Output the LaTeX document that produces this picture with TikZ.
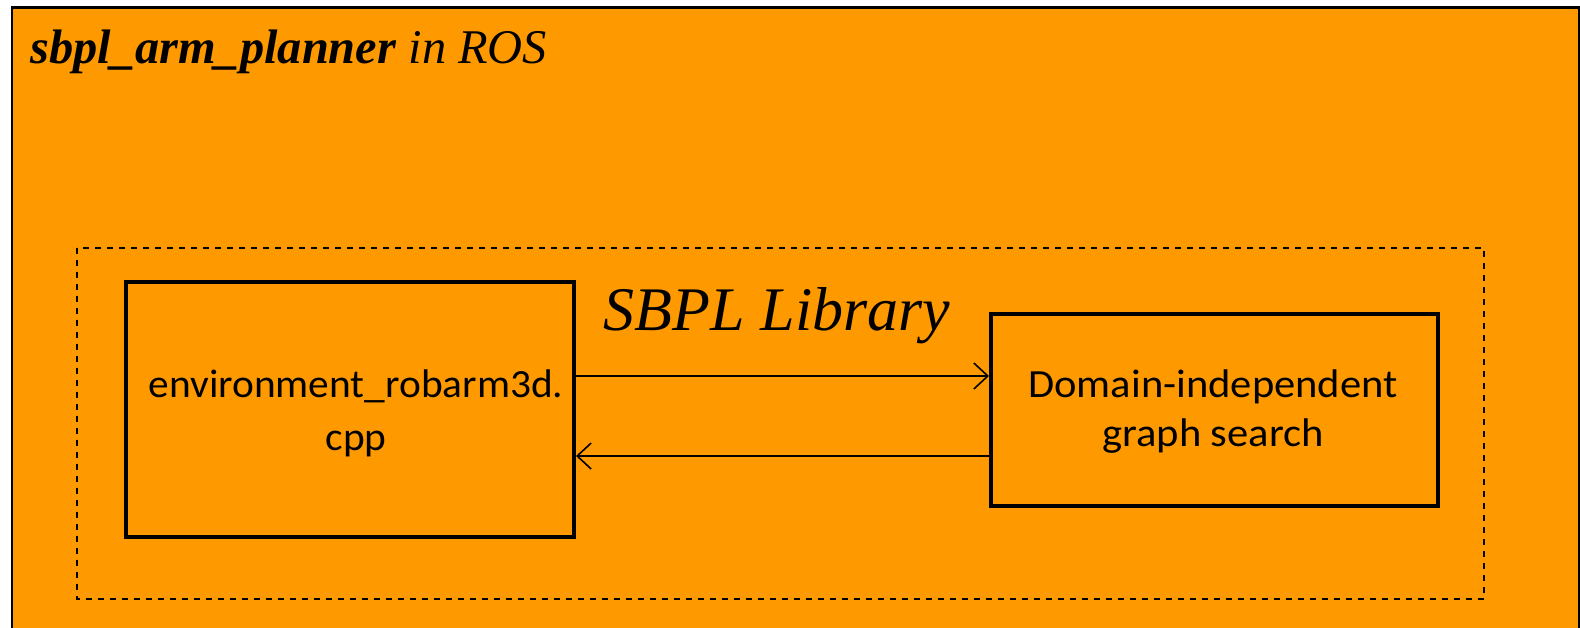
\documentclass[tikz,border=0pt]{standalone}
\usepackage{graphicx}
\usepackage{fontspec}
\setmainfont{Liberation Serif}[ItalicFont={Liberation Serif Italic},BoldFont={Liberation Serif Bold},BoldItalicFont={Liberation Serif Bold Italic}]
\newfontfamily\timesf{Liberation Serif}[ItalicFont={Liberation Serif Italic},BoldFont={Liberation Serif Bold},BoldItalicFont={Liberation Serif Bold Italic}]
\newfontfamily\calib{Carlito}
\usetikzlibrary{arrows.meta}
\definecolor{bgorange}{HTML}{FF9900}
\tikzset{
  modbox/.style={draw=black, line width=2pt, fill=bgorange, inner sep=0pt},
  conn/.style={line width=0.8pt, -{Straight Barb[length=7pt,width=13pt,line width=0.8pt]}},
  boxtext/.style={inner sep=0pt, align=center}
}
\begin{document}
\begin{tikzpicture}[x=0.5pt,y=-0.5pt]
\useasboundingbox (0,0) rectangle (1580,627);
\clip (0,0) rectangle (1580,627);
\fill[white] (0,0) rectangle (1580,627);
\draw[line width=1.2pt, fill=bgorange] (12,7.5) rectangle (1579,660);
\node[anchor=base west, inner sep=0pt, font=\timesf\fontsize{24.2}{29}\selectfont] (title) at (30,63) {\textbf{\textit{sbpl\_arm\_planner}} \textit{in ROS}};
\draw[dashed, line width=0.6pt] (77,248) rectangle (1484,599);
\node[inner sep=0pt, font=\timesf\fontsize{31}{36}\selectfont\itshape, anchor=base] (lib) at (777,330) {SBPL Library};
\node[modbox, minimum width=224pt, minimum height=127.5pt, anchor=north west] (env) at (124,280) {};
\node[boxtext, anchor=base] (envt) at (356,397) {\scalebox{1.035}[1]{\calib\fontsize{20}{26.5}\selectfont\begin{tabular}[t]{@{}c@{}}environment\_robarm3d.\\cpp\end{tabular}}};
\node[modbox, minimum width=223.5pt, minimum height=96pt, anchor=north west] (dom) at (989,312) {};
\node[boxtext, anchor=base] (domt) at (1213,397) {\scalebox{1.064}[1]{\calib\fontsize{20}{24.5}\selectfont\begin{tabular}[t]{@{}c@{}}Domain-independent\\graph search\end{tabular}}};
\coordinate (a1s) at (env.east |- 0,376);
\coordinate (a1e) at (dom.west |- 0,376);
\coordinate (a2s) at (dom.west |- 0,456);
\coordinate (a2e) at (env.east |- 0,456);
\draw[conn] (a1s) -- (a1e);
\draw[conn] (a2s) -- (a2e);
\end{tikzpicture}
\end{document}
